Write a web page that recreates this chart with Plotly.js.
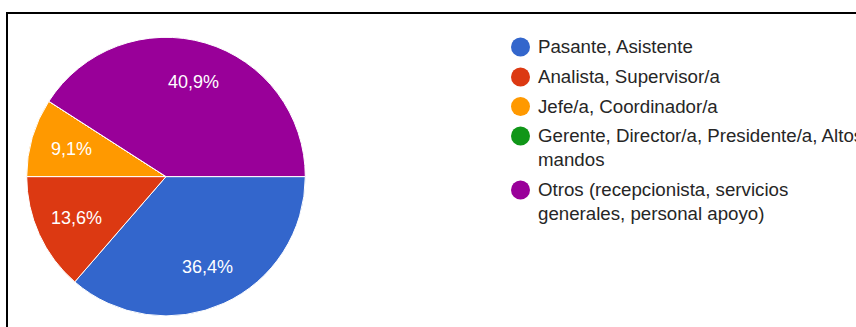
<!DOCTYPE html>
<html>
<head>
<meta charset="utf-8">
<script src="https://cdn.plot.ly/plotly-3.0.1.min.js"></script>
<style>
html,body{margin:0;padding:0;background:#fff;}
#chart{width:856px;height:327px;}
</style>
</head>
<body>
<div id="chart"></div>
<script>
// Data
var categories = [
  "Pasante, Asistente",
  "Analista, Supervisor/a",
  "Jefe/a, Coordinador/a",
  "Gerente, Director/a, Presidente/a, Altos<br>mandos",
  "Otros (recepcionista, servicios<br>generales, personal apoyo)"
];
var counts = [8, 3, 2, 0, 9];
var colors = ["#3366cc", "#dc3912", "#ff9900", "#109618", "#990099"];

var W = 856, H = 327;
var FONT = "'Liberation Sans', Arial, Helvetica, sans-serif";
function px(x){ return x / W; }
function py(y){ return 1 - y / H; }

// Pie geometry (pixels)
var cx = 166, cy = 176.6, R = 139.3;

var trace = {
  type: "pie",
  labels: categories,
  values: counts,
  marker: {colors: colors, line: {color: "#ffffff", width: 1}},
  sort: false,
  direction: "clockwise",
  rotation: 90,
  textinfo: "none",
  hoverinfo: "label+percent",
  showlegend: false,
  domain: {x: [px(cx - R), px(cx + R)], y: [py(cy + R), py(cy - R)]}
};

// Percent labels placed along each slice's mid-angle, derived from the counts
var total = counts.reduce(function(a, b){ return a + b; }, 0);
var annotations = [];
var cum = 0;
for (var k = 0; k < counts.length; k++) {
  var frac = counts[k] / total;
  if (frac > 0) {
    var mid = (cum + frac / 2) * 2 * Math.PI; // clockwise from east
    var d = 0.71 * R;
    annotations.push({xref: "paper", yref: "paper",
      x: px(cx + d * Math.cos(mid)), y: py(cy + d * Math.sin(mid)),
      xanchor: "center", yanchor: "middle", showarrow: false,
      text: (frac * 100).toFixed(1).replace(".", ",") + "%",
      font: {family: FONT, size: 18, color: "#ffffff"}});
  }
  cum += frac;
}

// Frame
var shapes = [
  {type: "line", xref: "paper", yref: "paper", x0: px(6), x1: px(860), y0: py(13), y1: py(13), line: {color: "#000", width: 2}},
  {type: "line", xref: "paper", yref: "paper", x0: px(7), x1: px(7), y0: py(12), y1: py(330), line: {color: "#000", width: 2}}
];

// Legend built from the category and colour arrays
var rowY = [47, 77, 106.5, 136, 190];
for (var i = 0; i < categories.length; i++) {
  shapes.push({type: "circle", xref: "paper", yref: "paper",
    x0: px(511), x1: px(530), y0: py(rowY[i] - 9.5), y1: py(rowY[i] + 9.5),
    fillcolor: colors[i], line: {width: 0}});
  annotations.push({xref: "paper", yref: "paper", x: px(536), y: py(rowY[i] - 12.8),
    xanchor: "left", yanchor: "top", align: "left", showarrow: false,
    text: categories[i],
    font: {family: FONT, size: 18.7, color: "#262626"}});
}

var layout = {
  width: W, height: H,
  margin: {l: 0, r: 0, t: 0, b: 0},
  paper_bgcolor: "#ffffff",
  separators: ",.",
  showlegend: false,
  shapes: shapes,
  annotations: annotations
};

Plotly.newPlot("chart", [trace], layout, {displayModeBar: false, staticPlot: true});
</script>
</body>
</html>
